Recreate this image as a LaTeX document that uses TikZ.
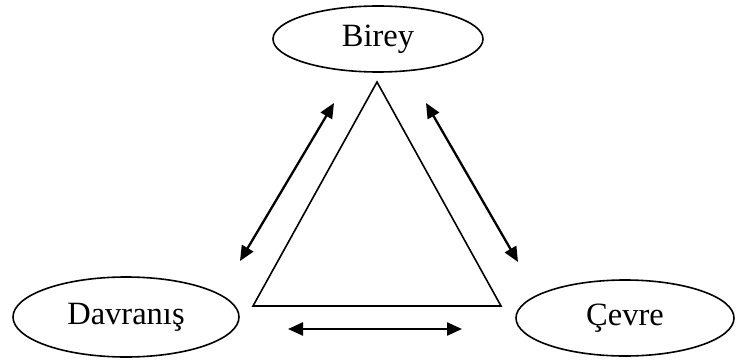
\documentclass[tikz,border=0pt]{standalone}
\usepackage{fontspec}
\setmainfont{Liberation Serif}
\usetikzlibrary{arrows.meta,shapes.geometric}
\begin{document}
\begin{tikzpicture}[x=1pt,y=-1pt,
  actor/.style={ellipse,draw,line width=1.6pt,inner sep=0pt,
    font=\fontsize{32.5}{38}\selectfont},
  link/.style={line width=2.3pt,{Triangle[length=15pt,width=13pt]}-{Triangle[length=15pt,width=13pt]}},
  frame/.style={draw,line width=1.6pt,line join=miter}]
  \useasboundingbox (0,0) rectangle (736,361);

  % the three factors
  \node[actor,minimum width=210pt,minimum height=66pt] (birey) at (378,39) {Birey};
  \node[actor,minimum width=226pt,minimum height=80pt] (davranis) at (126,317) {Davranış};
  \node[actor,minimum width=218pt,minimum height=76pt] (cevre) at (625,318) {Çevre};

  % central triangle
  \coordinate (top) at (377,82);
  \coordinate (bl) at (253,306);
  \coordinate (br) at (501,306);
  \draw[frame] (top) -- (bl) -- (br) -- cycle;

  % arrow end points
  \coordinate (l1) at (240,261);
  \coordinate (l2) at (334,103);
  \coordinate (r1) at (426,103);
  \coordinate (r2) at (518,262);
  \coordinate (b1) at (288,329);
  \coordinate (b2) at (462,329);

  % mutual influences
  \draw[link] (l1) -- (l2);
  \draw[link] (r1) -- (r2);
  \draw[link] (b1) -- (b2);
\end{tikzpicture}
\end{document}
